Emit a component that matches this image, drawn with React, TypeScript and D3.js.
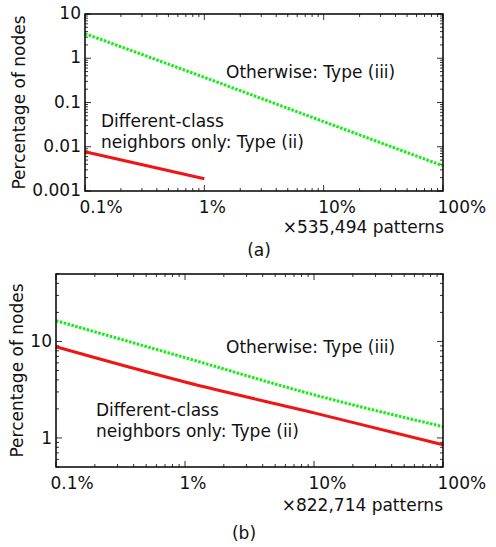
import * as d3 from 'd3';

// ── Page / fonts ──────────────────────────────────────────────────────────────
const W = 496;
const H = 547;
const FONT = "'DejaVu Sans', Verdana, sans-serif";
const FS = 17;

const RED = '#f01414';
const GREEN = '#11ee11';

// ── Data ──────────────────────────────────────────────────────────────────────
// x = share of patterns (fraction), y = percentage of nodes
const X_TICKS = [0.001, 0.01, 0.1, 1];
const X_TICK_LABELS = ['0.1%', '1%', '10%', '100%'];

const A_Y_TICKS = [0.001, 0.01, 0.1, 1, 10];
const A_Y_LABELS = ['0.001', '0.01', '0.1', '1', '10'];
const B_Y_TICKS = [1, 10];
const B_Y_LABELS = ['1', '10'];

const A_OTHER_X = [0.001, 0.01, 0.1, 1];
const A_OTHER = [3.6, 0.37, 0.037, 0.0037];
const A_DIFF_X = [0.001, 0.01];
const A_DIFF = [0.0077, 0.0019];

const B_X = [0.001, 0.01, 0.1, 1];
const B_OTHER = [16.4, 6.8, 2.8, 1.31];
const B_DIFF = [8.8, 3.8, 1.82, 0.85];

type Box = { l: number; r: number; t: number; b: number };
type Series = { xs: number[]; ys: number[]; color: string; dash?: string };

function Panel(props: {
  box: Box;
  yDomain: [number, number];
  yTicks: number[];
  yLabels: string[];
  yLabelEnd: number;
  yLabelDy: number;
  titleX: number;
  series: Series[];
  children?: any;
}) {
  const { box, yDomain, yTicks, yLabels, yLabelEnd, yLabelDy, titleX, series } = props;
  const x = d3.scaleLog().domain([0.001, 1]).range([box.l, box.r]);
  const y = d3.scaleLog().domain(yDomain).range([box.b, box.t]);

  const isMajor = (v: number) => Math.abs(Math.log10(v) - Math.round(Math.log10(v))) < 1e-6;
  const xt = x.ticks();
  const yt = y.ticks();

  const line = d3.line<[number, number]>()
    .x(d => x(d[0]))
    .y(d => y(d[1]))
    .curve(d3.curveMonotoneX);

  return (
    <g>
      {/* ticks on all four sides, pointing inward */}
      {xt.map((v, i) => {
        const len = isMajor(v) ? 6 : 3;
        const px = x(v);
        return (
          <g key={'x' + i} stroke="#333" strokeWidth={1}>
            <line x1={px} x2={px} y1={box.b} y2={box.b - len} />
            <line x1={px} x2={px} y1={box.t} y2={box.t + len} />
          </g>
        );
      })}
      {yt.map((v, i) => {
        const len = isMajor(v) ? 6 : 3;
        const py = y(v);
        return (
          <g key={'y' + i} stroke="#333" strokeWidth={1}>
            <line x1={box.l} x2={box.l + len} y1={py} y2={py} />
            <line x1={box.r} x2={box.r - len} y1={py} y2={py} />
          </g>
        );
      })}

      {series.map((s, i) => (
        <path
          key={i}
          d={line(s.xs.map((v, j) => [v, s.ys[j]] as [number, number])) ?? ''}
          fill="none"
          stroke={s.color}
          strokeWidth={3}
          strokeDasharray={s.dash}
        />
      ))}

      <rect x={box.l} y={box.t} width={box.r - box.l} height={box.b - box.t}
        fill="none" stroke="#000" strokeWidth={1.5} />

      {yTicks.map((v, i) => (
        <text key={'yl' + i} x={yLabelEnd} y={y(v) + yLabelDy} textAnchor="end"
          fontSize={FS} fontFamily={FONT} fill="#111">{yLabels[i]}</text>
      ))}
      {X_TICKS.map((v, i) => (
        <text key={'xl' + i} x={x(v) - 5.5} y={box.b + 22} textAnchor="start"
          fontSize={FS} fontFamily={FONT} fill="#111">{X_TICK_LABELS[i]}</text>
      ))}

      <text transform={`translate(${titleX},${(box.t + box.b) / 2}) rotate(-90)`}
        textAnchor="middle" fontSize={FS} fontFamily={FONT} fill="#111">
        Percentage of nodes
      </text>
      {props.children}
    </g>
  );
}

export default function App() {
  const txt = { fontSize: FS, fontFamily: FONT, fill: '#111' };
  return (
    <svg width={W} height={H} viewBox={`0 0 ${W} ${H}`}
      style={{ position: 'absolute', left: 0, top: 0, background: '#fff' }}>
      <rect width={W} height={H} fill="#fff" />

      {/* (a) */}
      <Panel
        box={{ l: 85, r: 443, t: 14, b: 191 }}
        yDomain={[0.001, 10]}
        yTicks={A_Y_TICKS}
        yLabels={A_Y_LABELS}
        yLabelEnd={81}
        yLabelDy={5}
        titleX={25}
        series={[
          { xs: A_OTHER_X, ys: A_OTHER, color: GREEN, dash: '2.5,1.5' },
          { xs: A_DIFF_X, ys: A_DIFF, color: RED },
        ]}
      >
        <text x={226} y={78} {...txt}>Otherwise: Type (iii)</text>
        <text x={101} y={127} {...txt}>Different-class</text>
        <text x={101} y={148} {...txt}>neighbors only: Type (ii)</text>
        <text x={444} y={233} textAnchor="end" {...txt}>×535,494 patterns</text>
        <text x={259} y={256} textAnchor="middle" {...txt}>(a)</text>
      </Panel>

      {/* (b) */}
      <Panel
        box={{ l: 56, r: 443, t: 274, b: 467 }}
        yDomain={[0.5, 50]}
        yTicks={B_Y_TICKS}
        yLabels={B_Y_LABELS}
        yLabelEnd={52}
        yLabelDy={6}
        titleX={23}
        series={[
          { xs: B_X, ys: B_OTHER, color: GREEN, dash: '2.5,1.5' },
          { xs: B_X, ys: B_DIFF, color: RED },
        ]}
      >
        <text x={226} y={353} {...txt}>Otherwise: Type (iii)</text>
        <text x={96} y={416} {...txt}>Different-class</text>
        <text x={96} y={437} {...txt}>neighbors only: Type (ii)</text>
        <text x={443} y={511} textAnchor="end" {...txt}>×822,714 patterns</text>
        <text x={244} y={539} textAnchor="middle" {...txt}>(b)</text>
      </Panel>
    </svg>
  );
}
